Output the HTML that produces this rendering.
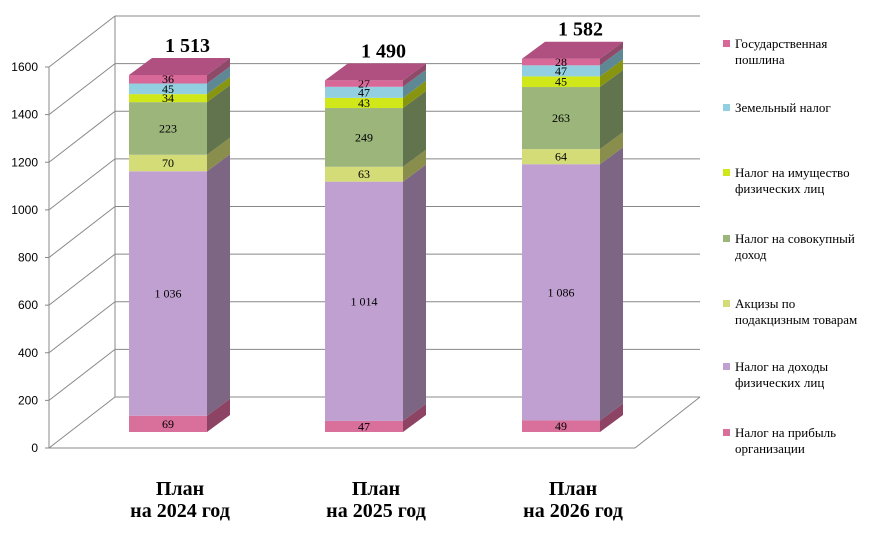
<!DOCTYPE html>
<html><head><meta charset="utf-8"><style>
body{margin:0;background:#fff;width:886px;height:533px;overflow:hidden}
svg{display:block}
</style></head><body>
<svg id="chart" width="886" height="533" viewBox="0 0 886 533" xmlns="http://www.w3.org/2000/svg"></svg>
<script>
const categories1 = ["План", "План", "План"];
const categories2 = ["на 2024 год", "на 2025 год", "на 2026 год"];
const seriesNames = [["Налог на прибыль","организации"],["Налог на доходы","физических лиц"],["Акцизы по","подакцизным товарам"],["Налог на совокупный","доход"],["Налог на имущество","физических лиц"],["Земельный налог"],["Государственная","пошлина"]];
const profitTax = [69, 47, 49];
const incomeTax = [1036, 1014, 1086];
const excise = [70, 63, 64];
const aggregateIncome = [223, 249, 263];
const propertyTax = [34, 43, 45];
const landTax = [45, 47, 47];
const stateDuty = [36, 27, 28];
const totals = ["1 513", "1 490", "1 582"];
const yTicks = [0, 200, 400, 600, 800, 1000, 1200, 1400, 1600];
const labelText = [["69","47","49"],["1 036","1 014","1 086"],["70","63","64"],["223","249","263"],["34","43","45"],["45","47","47"],["36","27","28"]];

const series = [profitTax, incomeTax, excise, aggregateIncome, propertyTax, landTax, stateDuty];
const fronts = ["#d9709c","#c0a0d0","#d4dc78","#9bb57b","#d0e81a","#92cfe0","#d86898"];
const sides = ["#8d4363","#7c6683","#8a8e4c","#62744e","#889510","#5e8894","#8f4a6a"];
const tops = ["#b85a84","#a78bb5","#b9c060","#85a067","#b0c812","#7fb6c6","#b05080"];
const svg = document.getElementById('chart');
const NS = "http://www.w3.org/2000/svg";
function mk(t, a, name, parent){const e=document.createElementNS(NS,t);for(const k in a)e.setAttribute(k,a[k]);


(parent||svg).appendChild(e);return e;}
// axes geometry
const fx0=49, fy0=448, fyScale=381/1600, bdx=66, bdy=-51;
const yFront = v => fy0 - v*fyScale;
const barBase=432, barScale=357/1513;
const yBar = v => barBase - v*barScale;
const barX = [129, 325, 522], barW = 78, ddx=23, ddy=-17;
// walls
const grid = mk('g',{},'gridlines');
yTicks.forEach(t=>{
  const y=yFront(t);
  mk('line',{x1:fx0,y1:y,x2:fx0+bdx,y2:y+bdy,stroke:'#888','stroke-width':1},'side-gridline',grid);
  mk('line',{x1:fx0+bdx,y1:y+bdy,x2:700,y2:y+bdy,stroke:'#888','stroke-width':1},'back-gridline',grid);
  mk('line',{x1:fx0-4,y1:y,x2:fx0,y2:y,stroke:'#888'},'y-tick',grid);
  const tx=mk('text',{x:38,y:y+4,'text-anchor':'end','font-family':'Liberation Sans, sans-serif','font-size':12,fill:'#000'},'y-tick-label',grid);
  tx.textContent=t;
});
mk('line',{x1:fx0,y1:yFront(1600),x2:fx0,y2:fy0,stroke:'#888'},'y-axis',grid);
mk('line',{x1:fx0+bdx,y1:yFront(1600)+bdy,x2:fx0+bdx,y2:fy0+bdy,stroke:'#888'},'back-wall-edge',grid);
mk('line',{x1:fx0,y1:fy0,x2:635,y2:fy0,stroke:'#888'},'floor-front-edge',grid);
mk('line',{x1:635,y1:fy0,x2:700,y2:fy0+bdy,stroke:'#888'},'floor-right-edge',grid);
// bars
for(let i=0;i<3;i++){
  const g=mk('g',{},'bar-'+categories2[i].replace(/\s/g,'-'));
  let cum=0;
  const x=barX[i];
  series.forEach((s,k)=>{
    const v=s[i], y1=yBar(cum), y2=yBar(cum+v);
    mk('rect',{x:x,y:y2,width:barW,height:y1-y2,fill:fronts[k]},'segment-front',g);
    mk('polygon',{points:`${x+barW},${y1} ${x+barW+ddx},${y1+ddy} ${x+barW+ddx},${y2+ddy} ${x+barW},${y2}`,fill:sides[k]},'segment-side',g);
    const lt=mk('text',{x:x+barW/2,y:(y1+y2)/2+4,'text-anchor':'middle','font-family':'Liberation Serif, serif','font-size':12,fill:'#000'},'segment-value-label',g);
    lt.textContent=labelText[k][i];
    cum+=v;
  });
  const yt=yBar(cum);
  mk('polygon',{points:`${x},${yt} ${x+ddx},${yt+ddy} ${x+barW+ddx},${yt+ddy} ${x+barW},${yt}`,fill:tops[6]},'bar-top',g);
  const tt=mk('text',{x:x+barW/2+ddx/2+8,y:yt+ddy-6,'text-anchor':'middle','font-family':'Liberation Serif, serif','font-size':20,'font-weight':'bold',fill:'#000'},'total-label',g);
  tt.textContent=totals[i];
  const c1=mk('text',{x:x+barW/2+12,y:495,'text-anchor':'middle','font-family':'Liberation Serif, serif','font-size':20,'font-weight':'bold',fill:'#000'},'category-label',g);
  c1.textContent=categories1[i];
  const c2=mk('text',{x:x+barW/2+12,y:517,'text-anchor':'middle','font-family':'Liberation Serif, serif','font-size':20,'font-weight':'bold',fill:'#000'},'category-label',g);
  c2.textContent=categories2[i];
}
// legend
const lg=mk('g',{},'legend');
const legY=[437,371,308,243,177,112,48];
seriesNames.forEach((nm,k)=>{
  const e=mk('g',{},'legend-entry',lg);
  const y0=legY[k]-(nm.length>1?0:0);
  mk('rect',{x:723,y:y0-8,width:7,height:7,fill:fronts[k]},'legend-marker',e);
  nm.forEach((line,j)=>{
    const t=mk('text',{x:735,y:y0+j*16,'font-family':'Liberation Serif, serif','font-size':13,fill:'#000'},'legend-text',e);
    t.textContent=line;
  });
});
</script>
</body></html>
